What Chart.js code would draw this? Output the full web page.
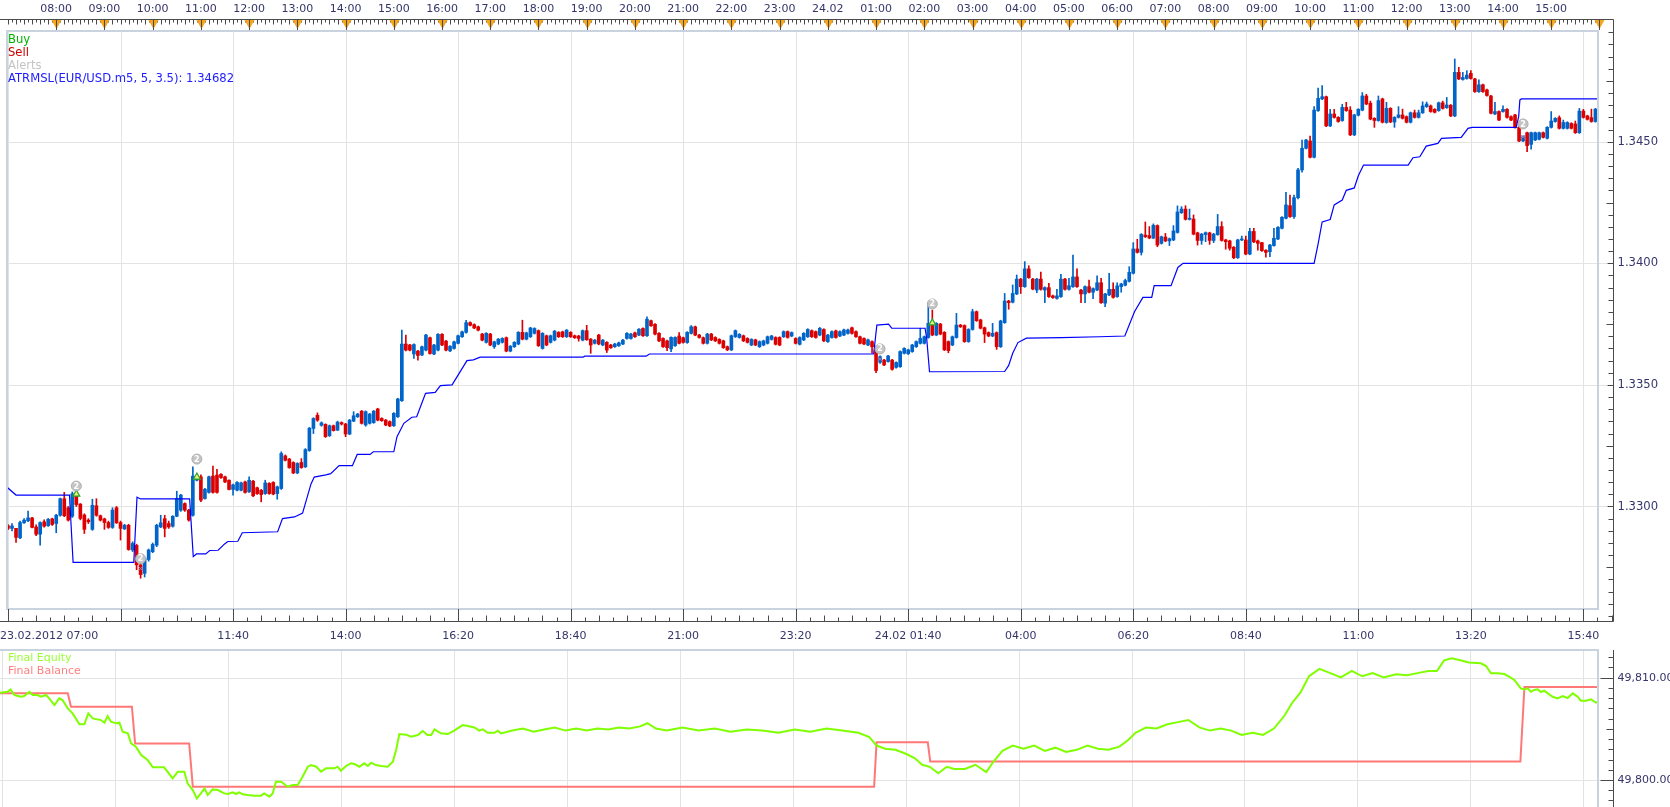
<!DOCTYPE html>
<html><head><meta charset="utf-8">
<script src="https://cdn.jsdelivr.net/npm/chart.js@4.4.1/dist/chart.umd.min.js"></script>
<style>
html,body{margin:0;padding:0;background:#fff;overflow:hidden;width:1670px;height:807px}
canvas{position:absolute;left:0;display:block}
#cA{top:0}
#cB{top:648px}
</style></head><body>
<canvas id="cA" width="1670" height="648"></canvas>
<canvas id="cB" width="1670" height="159"></canvas>
<script>
// ---------- DATA ----------
const BASE = 1.3300, PIP = 0.0001;
// one row per 5-minute bar, bar 0 = 23.02.2012 07:00 : [open, high, low, close] in pips above 1.3300
const candles = [
[-7.9,-7.4,-9.5,-9.0],[-9.0,-7.0,-10.0,-8.0],[-9.0,-9.0,-14.8,-12.7],[-12.9,-6.0,-13.2,-6.6],[-6.7,-5.0,-7.0,-5.6],[-5.9,-1.9,-6.2,-4.7],[-4.7,-4.5,-8.8,-8.6],[-8.4,-7.5,-12.0,-11.4],[-11.4,-6.3,-15.9,-6.6],[-6.3,-5.5,-8.5,-8.1],
[-7.9,-4.9,-8.2,-5.3],[-5.1,-4.8,-7.8,-7.4],[-7.0,-3.2,-10.8,-3.6],[-3.6,3.5,-4.0,3.2],[3.2,5.8,-4.2,-3.8],[-0.5,0.0,-6.0,-5.6],[-4.0,6.0,-4.5,5.2],[4.7,5.5,0.0,0.8],[1.0,1.2,-5.5,-4.9],[-3.5,-3.0,-11.1,-9.4],
[-5.6,-5.0,-7.0,-6.3],[-9.4,3.0,-9.8,0.5],[0.3,3.2,-4.0,-3.6],[-3.8,-3.5,-6.0,-5.6],[-5.1,-4.8,-9.4,-6.6],[-6.6,-6.0,-9.0,-8.6],[-8.6,-0.5,-9.0,-1.5],[-0.5,0.0,-7.0,-6.7],[-6.6,-6.0,-13.8,-9.0],[-9.2,-7.3,-9.5,-7.7],
[-7.7,-7.3,-18.0,-17.7],[-17.9,-14.5,-18.5,-15.2],[-16.0,-15.5,-26.0,-24.0],[-24.0,-23.0,-29.5,-28.0],[-27.5,-21.0,-29.0,-21.4],[-21.8,-17.5,-22.5,-17.9],[-18.6,-15.0,-19.0,-15.6],[-15.9,-7.3,-16.5,-7.7],[-8.4,-3.6,-8.7,-6.7],[-5.0,-3.6,-12.5,-9.0],
[-7.0,-6.0,-9.0,-8.4],[-8.1,-3.8,-8.5,-4.0],[-4.0,6.3,-4.2,3.3],[-1.5,5.0,-2.0,4.7],[1.2,1.5,-2.0,-1.5],[-1.5,-1.2,-6.0,-5.6],[-3.6,16.3,-4.0,12.5],[10.8,13.2,10.5,12.6],[12.2,13.0,2.0,2.6],[3.3,7.5,3.0,7.1],
[5.8,12.5,5.5,12.2],[12.5,16.6,5.5,5.8],[12.9,15.3,5.5,5.8],[13.2,13.5,11.5,11.9],[12.2,12.5,9.8,10.1],[10.8,11.0,6.8,7.0],[7.0,9.2,4.7,8.9],[6.7,10.2,6.4,9.9],[6.7,10.0,6.4,9.7],[10.1,10.4,5.5,5.8],
[6.0,12.2,5.8,10.8],[10.4,10.8,4.0,4.4],[7.7,8.0,5.0,5.3],[6.7,7.0,1.9,4.9],[5.3,10.8,5.0,9.7],[9.5,9.8,5.0,5.3],[9.9,10.2,4.8,5.1],[5.3,8.4,3.0,8.1],[7.4,22.5,7.0,21.8],[20.8,21.2,18.7,19.0],
[19.5,19.8,15.7,16.0],[18.1,18.4,13.5,13.8],[13.8,18.0,13.5,17.7],[18.1,19.7,15.7,16.0],[16.3,23.8,16.0,23.4],[23.0,32.5,22.7,32.2],[32.1,36.5,30.0,36.2],[37.5,38.5,35.0,35.5],[33.4,34.8,33.0,34.4],[33.8,34.0,28.4,28.7],
[29.1,33.5,28.8,33.2],[33.2,33.5,31.0,31.2],[31.4,35.1,31.2,34.7],[34.5,34.8,33.5,33.9],[33.9,34.2,28.7,29.8],[29.8,35.8,29.5,35.5],[35.1,39.0,34.9,37.3],[36.9,38.3,36.6,38.0],[39.2,39.5,33.9,34.2],[33.5,39.3,33.0,39.0],
[34.2,38.3,33.9,38.0],[34.5,39.5,34.2,39.2],[40.1,40.4,35.2,35.5],[36.2,36.5,35.0,35.3],[35.5,35.8,33.2,33.5],[34.9,35.2,32.8,33.1],[33.2,38.6,32.9,38.3],[36.9,44.5,36.6,44.2],[43.5,72.5,43.2,66.8],[66.8,70.5,64.0,64.3],
[66.4,66.7,64.0,64.3],[62.7,66.9,60.9,66.6],[63.9,64.2,60.2,62.1],[62.3,66.0,62.0,65.7],[64.3,70.8,64.0,70.5],[69.4,69.7,62.6,62.9],[62.7,66.7,62.4,66.4],[64.3,71.1,64.0,70.8],[70.8,71.1,66.1,66.4],[68.0,68.3,64.0,64.3],
[64.0,66.2,63.7,65.9],[65.0,68.0,64.7,67.7],[67.1,70.5,66.8,70.2],[69.8,72.1,69.5,71.8],[71.6,76.6,71.3,75.6],[75.6,75.9,74.2,74.5],[74.8,75.1,73.1,73.4],[73.9,74.2,72.2,72.5],[70.9,71.2,68.1,68.4],[67.5,71.5,67.2,71.2],
[70.9,71.2,66.1,66.4],[65.7,68.0,65.0,67.7],[66.8,69.1,66.5,68.8],[67.5,69.4,67.2,69.1],[69.4,69.7,63.6,63.9],[63.9,66.2,63.6,65.9],[65.7,67.8,65.4,67.5],[66.8,71.9,66.5,71.6],[71.6,76.6,68.5,68.8],[68.8,71.7,68.5,71.4],
[69.8,73.7,69.5,73.4],[71.2,73.5,70.9,73.2],[72.3,72.6,65.8,66.1],[65.0,71.5,64.7,71.2],[70.2,70.5,66.1,66.4],[67.5,70.5,67.2,70.2],[68.4,72.4,68.1,72.1],[71.6,71.9,69.5,69.8],[71.8,72.1,69.5,69.8],[69.8,72.8,69.5,72.5],
[71.6,71.9,69.5,69.8],[70.2,70.5,69.1,69.4],[70.1,70.4,68.0,69.1],[68.4,72.6,68.1,72.3],[72.3,74.5,68.3,68.6],[68.8,69.1,63.0,66.4],[67.1,68.7,66.8,68.4],[70.5,70.8,66.5,66.8],[66.4,68.7,66.1,68.4],[67.5,67.8,63.3,64.3],
[66.4,66.7,65.0,65.3],[65.7,67.1,65.4,66.8],[66.1,67.6,65.8,67.3],[66.8,68.7,66.5,68.4],[69.1,71.5,68.8,71.2],[69.1,71.2,68.8,70.9],[71.4,71.7,69.5,69.8],[70.5,73.2,70.2,72.9],[73.2,73.5,69.9,70.2],[70.2,78.0,69.9,77.0],
[76.4,76.7,74.0,74.3],[74.9,75.2,70.6,70.9],[71.2,71.5,67.8,68.1],[69.1,69.4,65.4,65.7],[68.1,68.4,64.1,65.3],[64.8,69.8,63.7,69.5],[66.1,69.8,65.8,69.5],[70.1,71.5,66.8,67.1],[69.4,69.7,67.2,67.5],[67.4,71.9,67.1,71.6],
[71.2,74.4,70.9,73.9],[73.9,74.2,70.2,70.5],[70.5,70.8,69.2,69.5],[69.4,69.7,66.8,67.1],[67.1,71.2,66.8,70.9],[70.9,71.2,68.2,68.5],[69.5,69.8,67.8,68.1],[68.7,69.0,66.8,67.1],[68.1,68.4,65.0,65.3],[65.7,66.0,64.1,64.4],
[64.4,70.5,64.1,70.2],[69.8,72.6,69.5,72.3],[69.5,71.1,69.2,70.8],[70.2,70.5,67.8,68.1],[69.1,69.4,67.2,67.5],[66.4,69.0,66.1,68.7],[68.5,68.8,66.1,66.4],[65.7,68.1,65.4,67.8],[66.4,68.4,66.1,68.1],[67.1,70.1,66.8,69.8],
[68.7,70.4,68.4,70.1],[69.5,69.8,66.4,66.7],[69.5,69.8,66.1,66.4],[69.8,72.2,69.5,71.9],[71.9,72.2,69.2,69.5],[70.1,71.8,69.8,71.5],[69.1,69.4,66.8,67.1],[66.7,69.8,66.4,69.5],[68.5,71.5,68.2,71.2],[69.8,73.1,69.5,72.8],
[72.3,72.6,69.5,69.8],[71.9,72.2,69.2,69.5],[70.5,73.6,70.2,73.3],[72.8,73.1,67.8,68.1],[67.8,70.8,67.5,70.5],[69.5,72.2,69.2,71.9],[72.2,72.5,69.2,69.5],[70.1,72.2,69.8,71.9],[70.5,72.9,70.2,72.6],[71.2,72.9,70.9,72.6],
[73.5,73.8,70.9,71.2],[71.9,72.2,69.5,69.8],[69.8,70.1,66.8,67.1],[69.1,69.4,66.5,66.8],[66.4,68.8,66.1,68.5],[67.8,68.1,63.0,65.7],[65.7,66.0,55.0,55.9],[59.3,62.0,58.8,61.6],[60.2,60.5,57.9,58.2],[59.6,62.2,59.3,61.9],
[60.2,60.5,56.1,56.4],[57.2,59.5,56.9,59.2],[57.5,64.0,57.2,63.7],[63.0,65.3,62.7,65.0],[62.8,64.7,62.5,64.4],[63.7,66.7,63.4,66.4],[65.7,68.1,65.4,67.8],[67.1,73.3,66.8,69.1],[67.1,70.1,66.8,69.8],[69.5,83.8,69.2,75.3],
[75.3,80.8,70.2,70.5],[70.5,75.6,70.2,75.3],[75.0,75.3,70.6,70.9],[71.6,71.9,64.1,64.4],[67.8,68.1,63.2,64.1],[66.4,70.1,66.1,69.8],[69.5,79.4,69.2,74.6],[74.6,74.9,73.6,73.9],[74.4,74.7,67.5,67.8],[67.8,73.1,67.5,72.8],
[72.8,81.1,72.5,80.1],[80.1,80.4,76.1,76.4],[76.7,77.0,73.0,73.3],[73.5,73.8,67.4,70.9],[71.5,71.8,69.8,70.1],[70.1,75.3,69.8,71.2],[71.5,71.8,64.6,65.7],[65.7,76.6,65.4,76.3],[75.6,87.6,75.3,84.5],[84.5,84.8,81.1,83.8],
[84.0,91.1,83.7,87.6],[87.4,95.2,87.1,93.5],[93.5,93.8,87.6,90.4],[90.4,100.7,90.1,97.7],[97.7,99.0,93.8,94.1],[93.5,93.8,89.1,89.4],[89.0,93.8,87.9,93.5],[93.5,96.4,89.0,89.3],[89.0,90.3,83.8,90.0],[90.0,91.8,86.0,86.3],
[86.6,86.9,85.6,85.9],[85.6,89.3,85.3,86.6],[86.3,95.5,86.0,93.5],[93.5,93.8,89.0,89.3],[89.3,93.8,89.0,90.8],[90.4,103.4,90.1,94.4],[94.4,97.7,90.1,90.4],[89.0,89.3,83.8,87.4],[87.4,90.7,83.8,90.4],[90.4,93.1,87.8,88.1],
[88.1,89.9,85.5,89.6],[89.0,94.8,88.7,92.0],[92.0,93.8,83.5,83.8],[83.6,87.7,82.2,87.4],[87.0,95.9,86.7,89.3],[89.3,92.0,85.7,86.0],[86.3,92.0,86.0,90.7],[90.4,91.8,88.1,91.5],[91.0,93.5,90.7,92.9],[92.6,98.6,92.3,96.3],
[95.9,108.5,95.6,105.9],[105.9,109.9,104.2,104.5],[104.5,112.2,103.4,111.9],[111.6,117.0,110.6,110.9],[111.4,115.1,110.1,110.4],[110.4,116.2,110.1,115.6],[115.5,115.8,106.8,107.5],[108.2,111.2,107.9,110.9],[110.8,112.3,108.9,109.2],[109.2,110.4,107.3,110.1],
[109.6,115.5,109.3,113.3],[112.7,123.6,112.4,121.1],[120.8,123.3,120.5,122.3],[122.3,123.7,117.8,118.1],[118.1,122.3,117.8,118.2],[118.2,119.9,111.7,112.0],[112.5,112.8,107.5,109.4],[109.4,112.3,107.8,112.0],[111.8,112.9,108.9,112.6],[112.5,112.8,107.8,109.4],
[109.4,112.3,108.5,112.0],[111.8,120.1,111.5,115.1],[115.1,117.1,109.1,109.4],[109.6,109.9,105.8,108.9],[109.2,109.5,105.4,106.2],[106.6,106.9,101.9,102.3],[102.3,109.9,102.0,109.6],[109.6,111.2,109.3,109.9],[109.6,111.2,103.5,103.8],[103.8,114.4,103.5,113.1],
[113.1,114.4,108.5,108.8],[109.2,109.5,105.4,108.2],[108.5,108.6,104.9,105.2],[105.3,105.6,102.5,104.5],[104.8,107.8,102.7,107.5],[107.3,114.4,107.0,110.3],[110.0,115.1,109.7,114.8],[114.4,119.2,114.1,118.9],[118.5,129.2,118.2,124.0],[123.7,128.1,118.9,119.2],
[119.2,128.0,118.5,127.0],[127.0,139.0,126.5,138.4],[138.4,150.7,137.5,147.3],[147.3,151.0,147.0,150.7],[150.3,152.3,143.3,143.6],[143.6,164.4,143.3,163.0],[162.8,172.0,162.5,167.8],[167.6,173.1,167.3,168.5],[168.5,168.8,156.2,156.5],[156.5,163.3,156.2,161.4],
[161.4,163.3,159.7,160.0],[160.0,160.3,158.0,158.3],[158.7,165.4,158.4,164.1],[164.1,166.2,162.5,162.8],[163.0,164.4,152.5,152.8],[152.8,161.3,152.5,161.0],[160.9,163.6,160.6,163.3],[163.0,170.2,162.7,168.8],[168.8,169.5,165.2,165.5],[165.8,166.7,159.0,159.3],
[159.6,159.9,155.9,158.7],[158.7,168.8,158.4,166.9],[167.6,167.9,157.7,158.0],[157.9,166.2,157.6,163.7],[163.7,164.0,157.8,158.1],[158.1,160.3,155.9,160.0],[160.0,164.4,159.7,161.0],[161.0,163.4,159.3,159.6],[160.3,160.6,157.7,158.0],[158.0,162.2,157.7,161.9],
[161.9,163.0,159.7,160.0],[160.0,163.0,159.7,161.9],[161.9,166.4,161.6,164.7],[164.4,166.3,164.1,165.5],[164.7,165.1,162.1,162.4],[163.3,163.6,161.8,162.1],[162.8,166.3,162.5,166.0],[166.0,166.7,163.4,163.7],[164.0,168.2,163.7,165.1],[165.0,165.3,160.3,160.6],
[160.6,184.0,160.3,178.5],[178.5,180.6,175.5,175.8],[175.6,178.5,175.3,176.4],[176.0,179.2,175.7,177.4],[178.1,179.2,175.7,176.0],[175.8,176.1,170.3,170.6],[170.6,175.4,170.3,173.4],[173.4,173.7,170.3,170.6],[171.3,171.6,168.7,169.0],[168.8,169.1,161.4,161.7],
[161.4,166.2,161.1,162.4],[162.4,162.7,158.6,158.9],[162.4,164.7,162.1,163.3],[163.3,163.6,159.7,160.0],[160.3,160.6,158.6,158.9],[161.0,161.3,155.6,155.9],[155.9,157.5,150.0,150.3],[150.3,152.4,150.0,152.1],[153.7,154.0,145.9,148.4],[148.9,154.0,146.9,153.7],
[150.7,154.0,150.4,153.7],[151.0,154.0,150.7,153.7],[153.7,154.0,151.5,151.8],[151.4,156.2,151.1,155.9],[155.9,162.4,155.6,158.5],[158.3,159.9,158.0,159.6],[159.9,160.6,155.2,155.5],[155.5,158.9,155.2,157.9],[155.5,158.2,155.2,157.9],[157.5,157.8,155.2,155.5],
[157.3,158.5,153.4,153.7],[153.7,163.7,153.4,162.6],[162.6,163.3,159.7,160.0],[160.6,160.9,158.9,159.2],[159.9,163.4,158.0,158.3],[158.3,163.7,158.0,163.4]
];
// ATR trailing stop ATRMSL(5, 3.5): [bar, pips above 1.3300]
const atrStop = [
[-1,9.0],[2,4.7],[15.3,4.7],[16.2,-23.0],[31.3,-23.0],[32.1,3.8],[33,3.1],[45.2,3.1],[46.1,-20.6],[46.9,-19.5],[49.2,-19.5],[50.2,-18.1],[52.3,-18.0],[53.9,-15.4],[54.7,-14.4],[57.2,-14.3],[58.3,-10.8],[67.1,-10.4],[68.3,-5.0],[71.3,-4.3],[73.3,-2.7],[75.4,9.3],[76.2,12.1],[79.1,13.0],[80.3,13.5],[82.4,16.8],[85.7,16.8],[86.9,21.4],[90.1,21.4],[90.9,22.5],[96.0,22.5],[96.8,28.7],[98.5,34.2],[100.5,36.7],[101.7,36.9],[103.9,46.5],[106.3,46.9],[107.6,49.7],[110.5,50.0],[114.2,60.0],[115.8,60.3],[117.5,61.4],[143.1,61.4],[143.5,61.8],[158.8,61.8],[159.6,62.7],[215.4,62.7],[216.2,74.6],[219.1,75.0],[219.9,73.3],[228.2,73.3],[228.6,69.1],[229.3,55.4],[248,55.5],[249,58],[250,63],[251.3,67.4],[253.4,69.2],[262.1,69.4],[271.6,69.8],[277.9,70.1],[280.3,80.1],[282.4,86.0],[284.6,86.0],[285.2,90.8],[289.4,90.8],[291.1,98.3],[292.4,100.0],[325,100.0],[326,108],[327,117],[329,118],[330,124],[332,126],[333,130],[335,131],[336,136],[337.3,140.4],[348.4,140.4],[349.6,143.4],[351.3,143.8],[352.9,148.2],[355.8,149.3],[356.7,151.4],[361.6,151.8],[363.3,155.5],[364.3,155.9],[375.3,155.9],[375.9,160.3],[376.2,167.2],[376.6,167.6],[397,167.6]
];
const alertMarks = [[17,8.4],[33,-21.5],[47,19.5],[217,64.8],[230,83.3],[377,157.3]];
const buyMarks = [[17,5.1],[47,12.1],[230,75.5]];
const sellMarks = [[33,-25.5],[217,60.6],[377,152.0]];
// lower pane: [bar, value]
const equity = [
[-0.5,49808.53],[1.4,49808.63],[2.1,49808.86],[3.1,49808.31],[4.7,49808.14],[5.5,49808.21],[6.8,49808.63],[7.6,49808.31],[8.8,49808.31],[9.7,49808.14],[10.9,49808.31],[11.7,49807.98],[13.0,49807.33],[14.2,49807.98],[15.0,49807.82],[16.3,49807.00],[17.5,49806.51],[19.2,49805.44],[20.4,49805.44],[21.4,49806.51],[22.5,49806.02],[24.5,49805.86],[25.4,49805.60],[26.2,49806.25],[27.0,49805.70],[28.3,49805.54],[29.1,49805.60],[29.9,49804.72],[31.2,49804.56],[32.0,49803.58],[33.2,49803.26],[34.5,49802.44],[36.1,49801.95],[37.4,49801.24],[40.2,49801.24],[42.3,49800.16],[43.6,49800.81],[45.2,49800.81],[46.0,49799.67],[47.3,49799.02],[48.3,49798.20],[49.3,49798.69],[50.2,49799.18],[51.0,49798.53],[52.2,49799.08],[53.5,49799.02],[55.1,49798.69],[56.0,49798.63],[57.2,49798.79],[58.0,49798.63],[58.8,49798.79],[59.7,49798.60],[60.9,49798.53],[62.6,49798.47],[64.2,49798.47],[65.0,49798.69],[66.3,49798.37],[67.1,49798.69],[67.9,49799.83],[69.2,49799.83],[70.8,49799.34],[72.1,49799.51],[73.3,49799.51],[74.5,49800.32],[75.8,49801.30],[76.6,49801.46],[77.9,49801.30],[79.1,49800.81],[80.3,49801.14],[82.4,49801.14],[83.2,49801.30],[84.0,49800.91],[85.3,49801.37],[86.5,49801.63],[87.4,49801.56],[88.6,49801.30],[89.8,49801.63],[90.7,49801.37],[91.5,49801.69],[92.7,49801.46],[94.0,49801.37],[95.6,49801.30],[96.9,49801.79],[97.7,49802.93],[98.5,49804.49],[100.2,49804.43],[101.4,49804.23],[103.1,49804.40],[104.3,49804.79],[105.5,49804.40],[106.4,49804.40],[107.2,49804.95],[108.8,49804.56],[110.5,49804.49],[112.1,49804.82],[114.2,49805.37],[115.5,49805.28],[117.1,49805.14],[118.3,49804.82],[119.2,49804.95],[120.4,49804.62],[122.1,49804.62],[122.9,49804.82],[123.7,49804.56],
[126.5,49804.83],[129.1,49805.03],[131.8,49804.72],[134.4,49804.93],[137.0,49805.14],[139.7,49804.83],[142.3,49805.03],[145.0,49804.83],[147.6,49805.03],[150.3,49804.93],[152.9,49805.14],[155.5,49805.03],[158.2,49805.24],[160.0,49805.55],[162.1,49805.03],[164.8,49804.83],[168.7,49805.14],[172.7,49804.83],[176.7,49805.03],[180.6,49804.72],[184.6,49804.93],[188.5,49804.83],[192.5,49804.62],[196.5,49804.93],[200.4,49804.72],[204.4,49805.03],[208.3,49804.83],[212.3,49804.62],[215.0,49804.20],[216.8,49803.37],[218.9,49803.06],[221.5,49802.95],[224.2,49802.54],[226.3,49802.12],[228.1,49801.49],[230.0,49801.29],[232.1,49800.66],[234.2,49801.29],[236.1,49801.08],[238.7,49801.08],[241.3,49801.49],[244.0,49800.77],[245.8,49801.81],[248.0,49802.85],[250.6,49803.37],[253.2,49803.06],[255.9,49803.37],[258.5,49802.85],[261.1,49803.16],[263.8,49802.74],[266.4,49802.95],[269.1,49803.37],[271.7,49803.06],[274.3,49802.95],[277.0,49803.26],[279.1,49803.89],[281.0,49804.62],[283.6,49805.14],[286.2,49805.03],[288.9,49805.45],[291.5,49805.66],[294.1,49805.87],[296.8,49805.14],[299.4,49804.83],[302.1,49805.03],[304.7,49804.83],[307.3,49804.41],[310.0,49804.62],[312.6,49804.41],[315.3,49805.03],[317.9,49806.28],[319.8,49807.53],[321.9,49808.57],[324.0,49810.14],[326.6,49810.86],[329.3,49810.45],[331.9,49810.03],[334.6,49810.66],[337.2,49810.14],[339.8,49810.45],[342.5,49810.03],[345.6,49810.34],[348.3,49810.24],[350.9,49810.45],[353.6,49810.66],[355.7,49810.66],[357.5,49811.70],[359.4,49811.91],[361.5,49811.70],[363.6,49811.49],[366.6,49811.41],[367.9,49811.14],[369.1,49810.43],[370.8,49810.43],[372.4,49810.36],[373.6,49810.10],[374.9,49809.78],[375.7,49809.38],[376.5,49808.96],[377.4,49808.86],[378.2,49808.96],[379.0,49808.63],[379.8,49808.80],[380.7,49808.86],[381.5,49808.60],[382.3,49808.73],[383.2,49808.47],[384.4,49808.14],[385.6,49807.98],[386.9,49808.21],[388.1,49808.02],[389.4,49808.47],[390.6,49808.14],[391.4,49807.75],[392.7,49807.75],[393.9,49807.89],[395.1,49807.56],[395.9,49807.69]
];
const balance = [[-1,49808.47],[16.3,49808.47],[17.1,49807.17],[32.2,49807.17],[33.0,49803.58],[46.4,49803.58],[47.3,49799.35],[216.2,49799.35],[216.8,49803.68],[229.5,49803.68],[230.1,49801.80],[376.4,49801.80],[377.4,49809.09],[397,49809.09]];
const priceTicks = [1.3300, 1.3350, 1.3400, 1.3450];
const equityTicks = [49800, 49810];
const topHourLabels = ['08:00','09:00','10:00','11:00','12:00','13:00','14:00','15:00','16:00','17:00','18:00','19:00','20:00','21:00','22:00','23:00','24.02','01:00','02:00','03:00','04:00','05:00','06:00','07:00','08:00','09:00','10:00','11:00','12:00','13:00','14:00','15:00'];
const bottomTickLabels = ['23.02.2012 07:00','','11:40','14:00','16:20','18:40','21:00','23:20','24.02 01:40','04:00','06:20','08:40','11:00','13:20','15:40'];
const legendMain = [['Buy','#00b400'],['Sell','#c80000'],['Alerts','#c4c4c4'],['ATRMSL(EUR/USD.m5, 5, 3.5): 1.34682','#2020ff']];
const legendEquity = [['Final Equity','#99ff33'],['Final Balance','#ff8080']];

// ---------- RENDER ----------
const BARS_PER_HOUR = 12, BARS_PER_GRID = 28;
const X_MIN = -0.496, X_MAX = 395.64;
const Y_MIN = 1.325785, Y_MAX = 1.349552;
const EQ_MIN = 49797.36, EQ_MAX = 49812.71;
const FONT = '11px "DejaVu Sans", Verdana, sans-serif';
const FONT_L = '11.6px "DejaVu Sans", Verdana, sans-serif';
const TXT = '#35356b', AXC = '#4a4a4a', GRID = '#e3e3e3', FRAME = '#c9d3df';
const UP = '#0064c8', DN = '#dc0000';
const price = p => BASE + p * PIP;

function seg(ctx, x1, y1, x2, y2) { ctx.beginPath(); ctx.moveTo(x1, y1); ctx.lineTo(x2, y2); ctx.stroke(); }
const snap = v => Math.round(v) + 0.5;

const gridBars = bottomTickLabels.map((_, n) => n * BARS_PER_GRID);

function drawLegend(ctx, items, x, y0, dy, font) {
  ctx.font = font; ctx.textAlign = 'left'; ctx.textBaseline = 'middle';
  items.forEach(([t, c], n) => { ctx.fillStyle = c; ctx.fillText(t, x, y0 + n * dy); });
}

const paneA = {
  id: 'paneA',
  beforeDatasetsDraw(chart) {
    const { ctx, chartArea: a, scales: { x, y } } = chart;
    const AX = a.right + 15;
    ctx.save(); ctx.strokeStyle = GRID; ctx.lineWidth = 1;
    gridBars.forEach(b => { const p = snap(x.getPixelForValue(b)); seg(ctx, p, a.top, p, a.bottom); });
    priceTicks.forEach(v => { const p = snap(y.getPixelForValue(v)); seg(ctx, a.left, p, AX - 6, p); });
    ctx.restore();
  },
  afterDatasetsDraw(chart) {
    const { ctx, chartArea: a, scales: { x, y } } = chart;
    const AX = snap(a.right + 15), TOPY = snap(a.top - 12), BOTY = snap(a.bottom + 12);
    ctx.save();
    // alert numbers
    ctx.font = 'bold 8px "DejaVu Sans", sans-serif'; ctx.fillStyle = '#ffffff'; ctx.textAlign = 'center'; ctx.textBaseline = 'middle';
    alertMarks.forEach(([b, p]) => ctx.fillText('2', x.getPixelForValue(b), y.getPixelForValue(price(p)) + 0.5));
    // frame
    ctx.strokeStyle = FRAME; ctx.lineWidth = 2;
    ctx.strokeRect(a.left + 1, a.top, a.right - a.left - 1, a.bottom - a.top);
    // axis lines
    ctx.strokeStyle = AXC; ctx.lineWidth = 1;
    seg(ctx, 0, TOPY, AX, TOPY); seg(ctx, 0, BOTY, AX, BOTY); seg(ctx, AX, TOPY, AX, BOTY);
    // top ticks
    for (let i = 0; i <= 396; i++) { const p = snap(x.getPixelForValue(i)); if (p > AX) break; seg(ctx, p, TOPY, p, TOPY + (i % 2 ? 3 : 5)); }
    for (let n = 1; n * BARS_PER_HOUR <= 396; n++) {
      const p = snap(x.getPixelForValue(n * BARS_PER_HOUR));
      ctx.fillStyle = '#f6a51e'; ctx.beginPath(); ctx.moveTo(p - 5, TOPY + 0.5); ctx.lineTo(p + 5, TOPY + 0.5); ctx.lineTo(p, TOPY + 9.5); ctx.closePath(); ctx.fill();
      ctx.strokeStyle = AXC; seg(ctx, p, TOPY, p, a.top - 1);
    }
    // bottom ticks
    gridBars.forEach(b => {
      const p = snap(x.getPixelForValue(b)); seg(ctx, p, a.bottom, p, BOTY);
      for (let m = 1; m < 8; m++) { const q = snap(x.getPixelForValue(b + m * 3.5)); if (q > AX) break; seg(ctx, q, BOTY - (m % 2 ? 4 : 6), q, BOTY); }
    });
    // right ticks
    for (let pp = -45; pp <= 195; pp += 5) {
      const q = snap(y.getPixelForValue(price(pp)));
      const len = pp % 50 === 0 ? 6 : (pp % 25 === 0 ? 7 : 5);
      seg(ctx, AX - len, q, AX, q);
    }
    // labels
    ctx.font = FONT; ctx.fillStyle = TXT; ctx.textBaseline = 'middle';
    ctx.textAlign = 'center';
    topHourLabels.forEach((t, n) => ctx.fillText(t, x.getPixelForValue((n + 1) * BARS_PER_HOUR), a.top - 21.5));
    bottomTickLabels.forEach((t, n) => {
      if (!t) return;
      if (n === 0) { ctx.textAlign = 'left'; ctx.fillText(t, 0, a.bottom + 27); ctx.textAlign = 'center'; }
      else ctx.fillText(t, x.getPixelForValue(gridBars[n]), a.bottom + 27);
    });
    ctx.textAlign = 'left';
    ctx.font = FONT_L;
    priceTicks.forEach(v => ctx.fillText(v.toFixed(4), AX + 4, y.getPixelForValue(v)));
    drawLegend(ctx, legendMain, 8, a.top + 8.5, 13, FONT_L);
    ctx.restore();
  }
};

const paneB = {
  id: 'paneB',
  beforeDatasetsDraw(chart) {
    const { ctx, chartArea: a, scales: { x, y } } = chart;
    const AX = a.right + 15;
    ctx.save(); ctx.strokeStyle = GRID; ctx.lineWidth = 1;
    gridBars.forEach(b => { const p = snap(x.getPixelForValue(b)); seg(ctx, p, a.top, p, a.bottom); });
    equityTicks.forEach(v => { const p = snap(y.getPixelForValue(v)); seg(ctx, a.left, p, AX - 6, p); });
    ctx.restore();
  },
  afterDatasetsDraw(chart) {
    const { ctx, chartArea: a, scales: { x, y } } = chart;
    const AX = snap(a.right + 15);
    ctx.save();
    ctx.strokeStyle = FRAME; ctx.lineWidth = 2;
    seg(ctx, 0, a.top, a.right + 1, a.top);
    seg(ctx, a.right, a.top, a.right, a.bottom);
    ctx.strokeStyle = AXC; ctx.lineWidth = 1;
    seg(ctx, AX, a.top, AX, a.bottom);
    for (let v = Math.ceil(EQ_MIN); v <= EQ_MAX; v++) {
      const q = snap(y.getPixelForValue(v));
      const len = v % 10 === 0 ? 13 : (v % 5 === 0 ? 7 : 5);
      seg(ctx, AX - len, q, AX, q);
    }
    ctx.font = FONT; ctx.fillStyle = TXT; ctx.textBaseline = 'middle'; ctx.textAlign = 'left';
    equityTicks.forEach(v => ctx.fillText(v.toLocaleString('en-US', { minimumFractionDigits: 2, maximumFractionDigits: 2 }), AX + 4, y.getPixelForValue(v)));
    drawLegend(ctx, legendEquity, 8, a.top + 8, 13, FONT);
    ctx.restore();
  }
};

const common = {
  responsive: false, animation: false, devicePixelRatio: 1, events: [],
  plugins: { legend: { display: false }, tooltip: { enabled: false } }
};
const candleColors = candles.map(c => c[3] >= c[0] ? UP : DN);

new Chart(document.getElementById('cA'), {
  type: 'bar',
  data: {
    datasets: [
      { type: 'scatter', data: alertMarks.map(([b, p]) => ({ x: b, y: price(p) })), pointStyle: 'circle', pointRadius: 5, pointBackgroundColor: '#c4c4c4', pointBorderColor: '#b0b0b0', pointBorderWidth: 1, order: 0 },
      { type: 'scatter', data: buyMarks.map(([b, p]) => ({ x: b, y: price(p) })), pointStyle: 'triangle', pointRadius: 4, pointBackgroundColor: '#eaf27a', pointBorderColor: '#2aa62a', pointBorderWidth: 1.2, order: 0 },
      { type: 'scatter', data: sellMarks.map(([b, p]) => ({ x: b, y: price(p) })), pointStyle: 'crossRot', pointRadius: 3, pointBorderColor: '#9a80b8', pointBorderWidth: 1, order: 0 },
      { type: 'line', data: atrStop.map(([b, p]) => ({ x: b, y: price(p) })), borderColor: '#0000ff', borderWidth: 1.2, pointRadius: 0, tension: 0, order: 1 },
      { type: 'bar', data: candles.map((c, i) => ({ x: i, y: [price(c[0]), price(c[3])] })), backgroundColor: candleColors, barThickness: 3, minBarLength: 1, grouped: false, borderWidth: 0, order: 2 },
      { type: 'bar', data: candles.map((c, i) => ({ x: i, y: [price(c[2]), price(c[1])] })), backgroundColor: candleColors, barThickness: 1, grouped: false, borderWidth: 0, order: 3 }
    ]
  },
  options: {
    ...common,
    layout: { padding: { left: 0, right: 72, top: 31, bottom: 39 } },
    scales: {
      x: { type: 'linear', min: X_MIN, max: X_MAX, offset: false, display: false },
      y: { type: 'linear', min: Y_MIN, max: Y_MAX, beginAtZero: false, display: false }
    }
  },
  plugins: [paneA]
});

new Chart(document.getElementById('cB'), {
  type: 'line',
  data: {
    datasets: [
      { data: equity.map(([b, v]) => ({ x: b, y: v })), borderColor: '#80ff00', borderWidth: 2, pointRadius: 0, tension: 0, order: 0 },
      { data: balance.map(([b, v]) => ({ x: b, y: v })), borderColor: '#ff7878', borderWidth: 2, pointRadius: 0, tension: 0, order: 1 }
    ]
  },
  options: {
    ...common,
    layout: { padding: { left: 0, right: 72, top: 2, bottom: 0 } },
    scales: {
      x: { type: 'linear', min: X_MIN, max: X_MAX, offset: false, display: false },
      y: { type: 'linear', min: EQ_MIN, max: EQ_MAX, beginAtZero: false, display: false }
    }
  },
  plugins: [paneB]
});
</script></body></html>
